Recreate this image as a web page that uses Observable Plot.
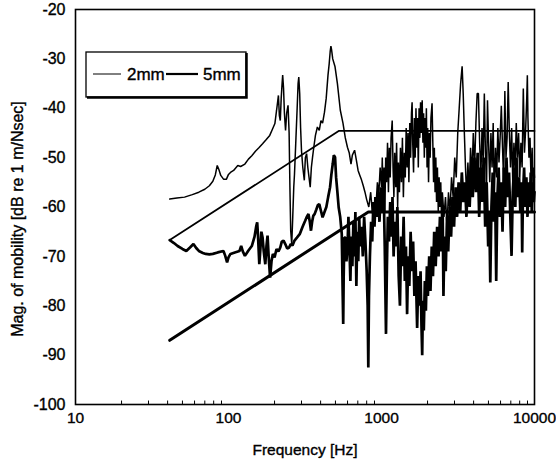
<!DOCTYPE html>
<html>
<head>
<meta charset="utf-8">
<script src="https://cdn.jsdelivr.net/npm/d3@7"></script>
<script src="https://cdn.jsdelivr.net/npm/@observablehq/plot@0.6"></script>
<style>
  html, body { margin: 0; padding: 0; background: #fff; }
  #chart { width: 556px; height: 463px; position: relative; }
  #chart svg text { stroke: #000; stroke-width: 0.35px; }
</style>
</head>
<body>
<div id="chart"></div>
<script>
// ---- Data ----
const xTickValues = [10, 100, 1000, 10000];
const yTickValues = [-100, -90, -80, -70, -60, -50, -40, -30, -20];
const minorTicks = [20,30,40,50,60,70,80,90,200,300,400,500,600,700,800,900,2000,3000,4000,5000,6000,7000,8000,9000];
const seriesNames = ["2mm", "5mm"];
const xTitle = "Frequency [Hz]";
const yTitle = "Mag. of mobility [dB re 1 m/Nsec]";

// 2mm plate (thin line)
const freq2 = [41.3,46,51.6,58,64,70,75,79,82,84.4,86.5,89,93,96.8,100,103,108,115,120,128,135,142,150,158,167,176,186,194,201,206,212,215,218,221,224,226,229,232,236,240,245,249,252,255,259,263,267,270,276,281,285,288,292,296,300,306,313,318,324,330,336,342,348,354,361,370,381,392,402,412,424,435,447,455,462,467,472,480,497,515,538,560,580,599,615,632,645,667,685,703,720,740,760,780,800,826,
850,870,890,905,920,940,960,980,
1000,1012,1025,1040,1052,1065,1080,1095,1110,1125,1140,1155,1175,1190,1205,1220,1240,1255,1275,1290,1310,1330,1350,1370,1390,1410,1430,1450,1470,1490,1510,1530,1550,1570,1585,1600,1620,1640,1660,1680,1700,1720,1740,1760,1780,1800,1820,1845,1865,1885,1905,1925,1945,1965,1985,2005,2030,2055,2080,2105,2140,2165,2190,2215,2240,2265,2290,2320,2350,2380,2410,2440,2470,2500,
2560,2620,2680,2740,2800,2870,2940,3010,3080,3150,3220,3290,3365,3420,3480,3540,3600,3670,3740,3820,3900,3980,4060,4140,4220,4300,4380,4460,4540,4620,4700,4780,4860,4930,5010,5100,5190,5280,5370,5460,5560,5660,5760,5860,5960,6070,6180,6290,6400,6510,6620,6730,6850,6970,7090,7210,7340,7470,7600,7730,7870,8010,8150,8300,8450,8600,8760,8900,8980,9060,9200,9350,9500,9650,9800,9900,10000];
const mag2 = [-58.4,-58.2,-58.0,-57.5,-57.0,-56.4,-55.7,-54.8,-53.5,-51.6,-52.4,-53.6,-54.4,-54.4,-53.4,-53.0,-52.6,-51.6,-51.8,-51.3,-50.3,-49.6,-48.7,-48.0,-47.2,-46.4,-45.5,-44.2,-43.1,-40.5,-37.4,-41.5,-42.5,-38,-35,-33.3,-36,-41,-44.5,-41,-39.4,-45,-56,-64.8,-67.5,-62,-56,-53.3,-46,-40,-35,-33.7,-37,-44,-48.6,-52,-54.6,-50,-49.2,-52,-54,-56,-52,-50,-47.9,-45.5,-43.8,-44.5,-42.5,-43,-40.8,-38,-33.3,-31,-28.5,-27.4,-28.2,-30,-31.6,-35,-40.4,-43,-46,-47.9,-49,-51.3,-49.5,-48.5,-50.5,-52.6,-53.5,-54.5,-55.7,-57,-58.5,-60,
-57,-61,-62.5,-58,-60,-55,-57.5,-52,
-56,-50,-58,-52,-61,-50,-55,-47,-57,-48,-54,-46,-42.5,-52,-58,-49,-56,-47,-60,-51,-57,-48,-55,-46,-58,-49,-54,-44,-52,-45,-55,-43,-50,-41,-38.8,-47,-53,-42,-50,-40,-48,-42,-52,-40,-46,-38.8,-45,-38.4,-47,-41,-50,-42,-48,-40,-52,-44,-55,-45,-50,-42,-39,-47,-55,-48,-57,-50,-59,-52,-61,-54,-60,-55,-63,-57,
-62,-58,-64,-57,-61,-54,-58,-50,-54,-45,-40,-35,-31.5,-37,-45,-52,-58,-51,-57,-48,-54,-45,-52,-43,-37,-37,-47,-54,-44,-51,-37,-49,-56,-38.4,-47,-55,-45,-52,-43,-58,-48,-54,-44,-51,-46,-39.5,-48,-55,-36.5,-50,-46,-34.7,-45,-52,-44,-55,-47,-53,-43,-50,-45,-54,-47,-52,-36,-49,-44,-38,-33.3,-42,-50,-46,-55,-48,-57,-52,-54];

// 5mm plate (thick line)
const freq5 = [41.3,44,46.5,50,53,56,59,61.5,64,68,71,75,79,85,92.7,95,97.9,100,103,110,118,121,124,128,135,142,148,152,154,156,159,162,164,167,170,174,177,180,183,187,191,195,200,206,212,218,223,229,235,242,249,255,262,270,280,292,305,317,325,333,340,346,352,358,366,375,384,392,400,412,424,436,448,461,470,480,488,497,505,515,525,537,550,558,562,566,572,581,590,599,608,617,626,635,645,655,665,675,685,695,705,715,725,740,755,770,785,800,812,820,828,840,855,870,885,900,915,930,950,970,990,1010,1030,1050,1070,1085,1100,1120,1140,1160,1180,1200,1220,1245,1270,1295,1320,1345,1370,1395,1420,1445,1470,1495,1520,1550,1580,1610,1640,1670,1710,1740,1770,1800,1825,1845,1865,1890,1920,1950,1980,2010,2050,2090,2130,2170,2210,2260,2310,2360,2410,2460,2510,2540,2580,2630,2680,2730,2790,2850,2910,2980,3050,3120,3190,3270,3350,3430,3510,3590,3680,3770,3860,3950,4050,4150,4250,4350,4450,4550,4650,4760,4870,4980,5060,5140,5230,5330,5430,5530,5620,5720,5830,5940,6060,6180,6300,6430,6560,6690,6820,6950,7080,7210,7350,7490,7630,7780,7930,8080,8230,8310,8400,8550,8700,8850,9000,9150,9300,9450,9600,9750,9900,10000];
const mag5 = [-66.7,-67.3,-67.9,-68.5,-68.9,-68.2,-67.5,-68.3,-68.9,-69.3,-69.5,-69.6,-69.5,-69.2,-68.9,-69.8,-71.2,-70.2,-69.5,-69.2,-68.9,-67.9,-69,-69.9,-68.8,-67.9,-66,-63.8,-63.1,-66,-71.6,-68,-65,-66.2,-69,-71.6,-68,-65.8,-70,-74.3,-71,-69.5,-70.2,-68.5,-69,-68.2,-67,-66.8,-67.5,-68.4,-68.2,-67.5,-67.8,-66.8,-66.2,-65.5,-64,-62.8,-62,-61.4,-63,-64.8,-63,-61.8,-61.4,-60.5,-59.6,-59.4,-60.5,-62.1,-61,-60,-58,-56,-53.5,-51.3,-49.5,-49.9,-54,-57,-60.1,-62,-65.5,-78,-83.7,-74,-66.2,-66.2,-71,-68.2,-62,-68,-75,-66,-72,-63,-70,-61,-76,-65,-71,-62,-68,-64,-70,-62,-67,-73,-80,-92.5,-78,-70,-63,-67,-59,-64,-58,-62,-57,-63,-56,-61,-54,-68,-85.7,-72,-62,-67,-59,-66,-58,-70,-63,-68,-60,-74,-80,-66,-72,-62,-75,-68,-81.7,-70,-76,-65,-73,-67,-78,-71,-84.5,-74,-80,-73,-84,-90,-79,-85,-75,-81,-72,-78,-70,-77,-68,-74,-65,-72,-64,-70,-62,-69,-60,-78,-66,-73,-62,-69,-60,-66,-58,-64,-56,-62,-55,-61,-53,-59,-55,-62,-54,-60,-51,-58,-50,-57,-49,-62,-52,-59,-50,-64,-55,-68,-61,-75.3,-60,-53,-63,-57,-75,-58,-52,-62,-55,-65,-52,-60,-50,-58,-53,-62,-69.9,-57,-52,-60,-50,-58,-54,-61,-55,-69.2,-58,-52,-60,-54,-62,-55,-60,-53,-61,-55,-59,-57];

// Asymptotic (infinite plate) lines
const asymFreq2 = [41.3, 525, 10000];
const asymMag2 = [-66.7, -44.6, -44.6];
const asymFreq5 = [41.3, 820, 10000];
const asymMag5 = [-87, -61, -61];

// ---- Build tables ----
const curve2 = freq2.map((f, i) => ({f, m: mag2[i]}));
const curve5 = freq5.map((f, i) => ({f, m: mag5[i]}));
const asym2 = asymFreq2.map((f, i) => ({f, m: asymMag2[i]}));
const asym5 = asymFreq5.map((f, i) => ({f, m: asymMag5[i]}));

const chart = Plot.plot({
  width: 556,
  height: 463,
  marginLeft: 75,
  marginRight: 22,
  marginTop: 9,
  marginBottom: 59,
  x: {type: "log", domain: [10, 10000]},
  y: {domain: [-100, -20]},
  style: {fontFamily: "Arial, 'Liberation Sans', sans-serif", fontSize: "16px", color: "#000", background: "#fff", overflow: "visible"},
  marks: [
    Plot.ruleX(minorTicks, {y1: -100, y2: -99.3, stroke: "#000", strokeWidth: 1}),
    Plot.axisX({ticks: xTickValues, tickFormat: d => String(d), tickSize: 0, tickPadding: 7, fontSize: 15.5,
      label: xTitle, labelAnchor: "center", labelArrow: "none", labelOffset: 50}),
    Plot.axisY({ticks: yTickValues, tickFormat: d => String(d), tickSize: 0, tickPadding: 10, fontSize: 16, label: null}),
    Plot.line(asym2, {x: "f", y: "m", stroke: "#000", strokeWidth: 1.7}),
    Plot.line(asym5, {x: "f", y: "m", stroke: "#000", strokeWidth: 3}),
    Plot.line(curve2, {x: "f", y: "m", stroke: "#000", strokeWidth: 1.5, strokeLinejoin: "miter"}),
    Plot.line(curve5, {x: "f", y: "m", stroke: "#000", strokeWidth: 2.7, strokeLinejoin: "miter"}),
    Plot.frame({stroke: "#000", strokeWidth: 1.6})
  ]
});
document.getElementById("chart").appendChild(chart);

const svg = d3.select(chart);
// ---- Y axis title ----
svg.append("text")
  .attr("transform", "translate(23,219) rotate(-90)")
  .attr("text-anchor", "middle")
  .attr("font-family", "Arial, 'Liberation Sans', sans-serif")
  .attr("font-size", 16).attr("fill", "#000")
  .text(yTitle);

// ---- Legend inside the plot area ----
const lg = svg.append("g").attr("class", "legend").attr("text-anchor", "start");
lg.append("rect").attr("x", 86).attr("y", 52).attr("width", 160).attr("height", 45)
  .attr("fill", "#fff").attr("stroke", "#000").attr("stroke-width", 1.3);
lg.append("path").attr("d", "M87,97.5 H246.5 V53").attr("fill", "none").attr("stroke", "#000").attr("stroke-width", 2.5);
lg.append("line").attr("x1", 93).attr("x2", 121).attr("y1", 74).attr("y2", 74).attr("stroke", "#000").attr("stroke-width", 1);
lg.append("text").attr("x", 127).attr("y", 80).attr("text-anchor", "start").text(seriesNames[0])
  .attr("font-family", "Arial, 'Liberation Sans', sans-serif").attr("font-size", 17).attr("fill", "#000");
lg.append("line").attr("x1", 166).attr("x2", 198).attr("y1", 74).attr("y2", 74).attr("stroke", "#000").attr("stroke-width", 2.2);
lg.append("text").attr("x", 203).attr("y", 80).attr("text-anchor", "start").text(seriesNames[1])
  .attr("font-family", "Arial, 'Liberation Sans', sans-serif").attr("font-size", 17).attr("fill", "#000");
</script>
</body>
</html>
